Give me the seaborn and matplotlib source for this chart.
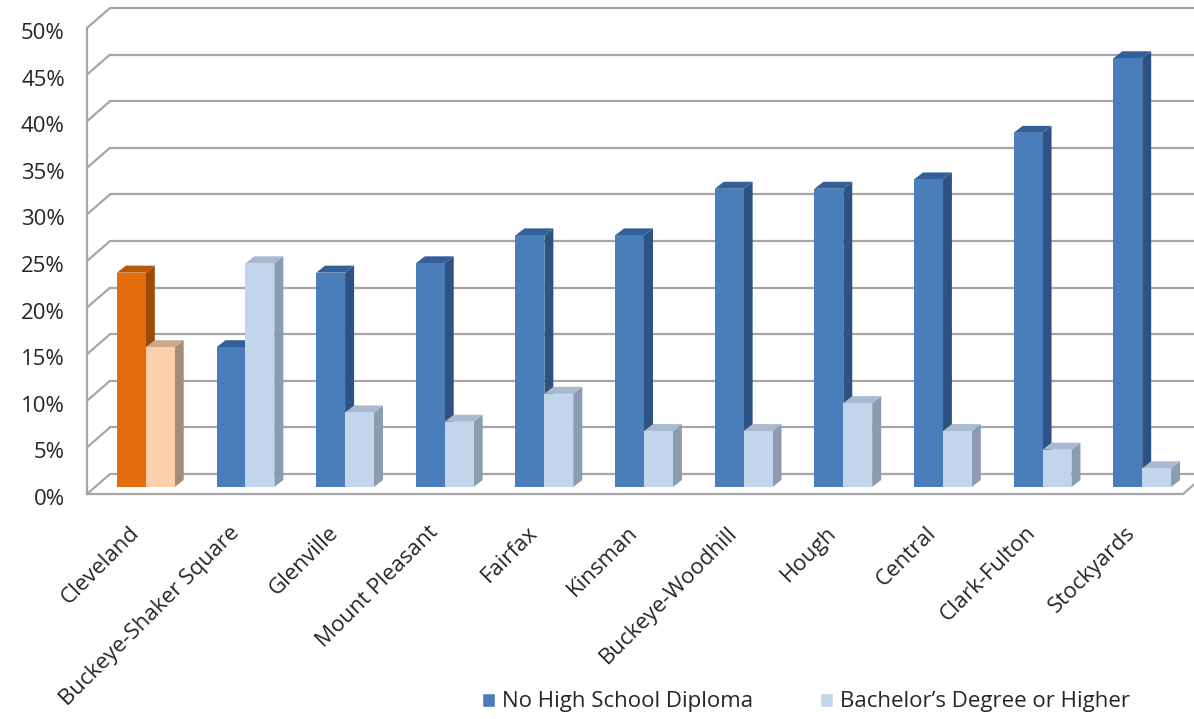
import numpy as np
import pandas as pd
import matplotlib
matplotlib.use("Agg")
import matplotlib.pyplot as plt
import matplotlib.transforms as mtransforms
import seaborn as sns
from matplotlib.patches import Polygon, Patch
from matplotlib.ticker import FuncFormatter

areas = ["Cleveland", "Buckeye-Shaker Square", "Glenville", "Mount Pleasant",
         "Fairfax", "Kinsman", "Buckeye-Woodhill", "Hough", "Central",
         "Clark-Fulton", "Stockyards"]
no_diploma = [23, 15, 23, 24, 27, 27, 32, 32, 33, 38, 46]
bachelors = [15, 24, 8, 7, 10, 6, 6, 9, 6, 4, 2]
series = ["No High School Diploma", "Bachelor\u2019s Degree or Higher"]

df = pd.DataFrame({
    "area": areas * 2,
    "pct": no_diploma + bachelors,
    "level": [series[0]] * len(areas) + [series[1]] * len(areas),
})

sns.set_style("white")
plt.rcParams["font.family"] = ["Open Sans", "DejaVu Sans"]

# colours: front face, side face, top face
blue = ("#4a7ebb", "#2d5284", "#34609a")
light = ("#c3d5ec", "#8b9bb0", "#a9b9cf")
orange = ("#e46c0a", "#9c4a06", "#b85807")
peach = ("#fcd0aa", "#a68b78", "#c9a98f")
grid_c = "#a6a6a6"
text_c = "#262626"

W, H = 1194, 719
fig = plt.figure(figsize=(W / 100, H / 100), dpi=100)
ax = fig.add_axes([87 / W, (H - 494) / H, (1183 - 87) / W, (494 - 28) / H])

sns.barplot(data=df, x="area", y="pct", hue="level", palette=[blue[0], light[0]],
            width=0.58, saturation=1, ax=ax, legend=False, zorder=3)
ax.set_xlim(-0.5, len(areas) - 0.5)
ax.set_ylim(0, 50)

# pixel -> data unit conversion
px_x = (len(areas)) / (1183 - 87)
px_y = 50 / (494 - 28)
floor_dx, floor_dy = 23 * px_x, 20 * px_y      # depth of the back wall
bar_dx, bar_dy = 9 * px_x, 7 * px_y             # depth of each bar
shift_x, shift_y = 9 * px_x, 7 * px_y           # bars sit part-way back

styles = [blue, light]
for k, cont in enumerate(ax.containers):
    for i, bar in enumerate(cont.patches):
        sty = styles[k]
        if areas[i] == "Cleveland":
            sty = orange if k == 0 else peach
        bar.set_x(bar.get_x() + shift_x)
        bar.set_y(bar.get_y() + shift_y)
        bar.set_facecolor(sty[0])
        bar.set_edgecolor("none")
        bar.set_zorder(3 + 2 * k)
        x0, y0 = bar.get_x(), bar.get_y()
        x1, y1 = x0 + bar.get_width(), y0 + bar.get_height()
        side = Polygon([(x1, y0), (x1 + bar_dx, y0 + bar_dy), (x1 + bar_dx, y1 + bar_dy), (x1, y1)],
                       closed=True, facecolor=sty[1], edgecolor="none", zorder=2 + 2 * k, clip_on=False)
        top = Polygon([(x0, y1), (x0 + bar_dx, y1 + bar_dy), (x1 + bar_dx, y1 + bar_dy), (x1, y1)],
                      closed=True, facecolor=sty[2], edgecolor="none", zorder=2 + 2 * k, clip_on=False)
        ax.add_patch(side)
        ax.add_patch(top)

# back wall gridlines and slanted connectors
xmin, xmax = ax.get_xlim()
yticks = np.arange(0, 51, 5)
for t in yticks:
    ax.plot([xmin + floor_dx, xmax + 2], [t + floor_dy, t + floor_dy], color=grid_c,
            lw=1.6, zorder=1, clip_on=False)
    ax.plot([xmin, xmin + floor_dx], [t, t + floor_dy], color=grid_c, lw=1.6, zorder=1, clip_on=False)
ax.plot([xmax, xmax + floor_dx], [0, floor_dy], color=grid_c, lw=1.6, zorder=1, clip_on=False)

ax.set_yticks(yticks)
ax.yaxis.set_major_formatter(FuncFormatter(lambda v, p: f"{v:.0f}%"))
ax.tick_params(axis="y", length=8, width=1.6, color=grid_c, pad=8, labelsize=16, labelcolor=text_c)
for lab in ax.get_yticklabels():
    lab.set_transform(lab.get_transform() + mtransforms.ScaledTranslation(0, -3 / 100, fig.dpi_scale_trans))

# category labels, drawn as rotated text under each group
ax.set_xticks(np.arange(len(areas) + 1) - 0.5)
ax.set_xticklabels([])
ax.tick_params(axis="x", length=7, width=1.6, color=grid_c)
lab_off = ax.transData + mtransforms.ScaledTranslation(-8 / 100, -28 / 100, fig.dpi_scale_trans)
for i, name in enumerate(areas):
    ax.text(i, 0, name, transform=lab_off, rotation=45, ha="right", va="top",
            rotation_mode="anchor", fontsize=16, color=text_c)

for s in ["top", "right"]:
    ax.spines[s].set_visible(False)
for s in ["left", "bottom"]:
    ax.spines[s].set_color(grid_c)
    ax.spines[s].set_linewidth(1.6)
ax.set_xlabel("")
ax.set_ylabel("")
ax.patch.set_alpha(0)

handles = [Patch(facecolor=blue[0]), Patch(facecolor=light[0])]
fig.legend(handles, series, loc="center", bbox_to_anchor=(806 / W, 1 - 702 / H), ncol=2,
           frameon=False, fontsize=16, handlelength=0.6, handleheight=0.6,
           handletextpad=0.3, columnspacing=3.0, labelcolor=text_c)

fig.savefig("out.png", dpi=100, facecolor="white")
